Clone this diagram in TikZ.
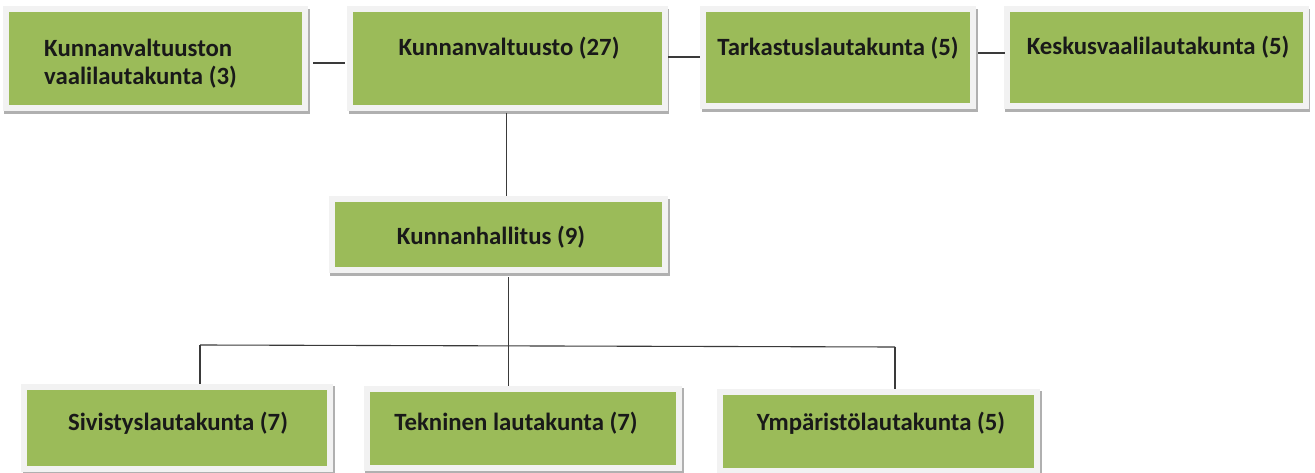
\documentclass[tikz,border=0pt]{standalone}
\usepackage{fontspec}
\setmainfont{Carlito}
\usetikzlibrary{shadows,calc}
\definecolor{boxgreen}{HTML}{9BBB59}
\definecolor{framegray}{HTML}{F2F2F2}
\definecolor{linegray}{HTML}{3A3A3A}
\definecolor{shadowgray}{HTML}{B0B0B0}
\begin{document}
\begin{tikzpicture}[x=1pt,y=1pt,
  orgbox/.style={rectangle, fill=boxgreen, draw=framegray, line width=6pt, inner sep=0pt,
    drop shadow={shadow xshift=1.8pt, shadow yshift=-2.8pt, fill=shadowgray, draw=shadowgray, line width=6pt, opacity=1}},
  lbl/.style={font=\fontsize{24.8}{28}\selectfont\bfseries, text=black!90, inner sep=0pt, align=left},
  conn/.style={draw=linegray, line width=1.1pt}]
\useasboundingbox (0,0) rectangle (1315,-473);
\fill[white] (0,0) rectangle (1315,-473);

% top row
\node[orgbox, minimum width=299.5pt, minimum height=99pt] (kvv) at (155.25,-59) {};
\node[orgbox, minimum width=314.5pt, minimum height=99pt] (kv) at (507.25,-58.5) {};
\node[orgbox, minimum width=270pt, minimum height=97pt] (tl) at (838,-58) {};
\node[orgbox, minimum width=299pt, minimum height=97pt] (kvl) at (1156,-58) {};
% middle
\node[orgbox, minimum width=333.5pt, minimum height=71pt] (kh) at (498.25,-235) {};
% bottom row
\node[orgbox, minimum width=306pt, minimum height=82.5pt] (sl) at (177,-427.75) {};
\node[orgbox, minimum width=312.5pt, minimum height=79pt] (tek) at (522.75,-428) {};
\node[orgbox, minimum width=317.5pt, minimum height=79pt] (yl) at (878.25,-431) {};

% labels
\node[lbl, anchor=west] (tkvv) at (44,-64) {Kunnanvaltuuston\\vaalilautakunta (3)};
\node[lbl] (tkv) at (509,-48) {Kunnanvaltuusto (27)};
\node[lbl] (ttl) at (838,-48) {Tarkastuslautakunta (5)};
\node[lbl] (tkvl) at (1158,-47) {Keskusvaalilautakunta (5)};
\node[lbl] (tkh) at (491,-237) {Kunnanhallitus (9)};
\node[lbl] (tsl) at (178,-423) {Sivistyslautakunta (7)};
\node[lbl] (ttek) at (516,-423) {Tekninen lautakunta (7)};
\node[lbl] (tyl) at (881,-423) {Ympäristölautakunta (5)};

% connectors
\draw[conn] ($(kvv.east)+(5,-4)$) -- ($(kv.west)+(-2,-4.5)$);
\draw[conn] ($(kv.east)+(0.5,1.5)$) -- ($(tl.west)+(0,1)$);
\draw[conn] ($(tl.east)+(2,5)$) -- ($(kvl.west)+(1.5,5)$);
\coordinate (kvb) at ($(kv.south)+(-1,-2)$);
\draw[conn] (kvb) -- (kvb |- kh.north);
\coordinate (khb) at ($(kh.south)+(10,-4)$);
\draw[conn] (khb) -- (khb |- tek.north);
\coordinate (barL) at (200,-345);
\coordinate (barR) at (895,-347);
\draw[conn] (barL) -- (barR);
\draw[conn] (barL) -- (barL |- sl.north);
\draw[conn] (barR) -- (barR |- yl.north);
\end{tikzpicture}
\end{document}
